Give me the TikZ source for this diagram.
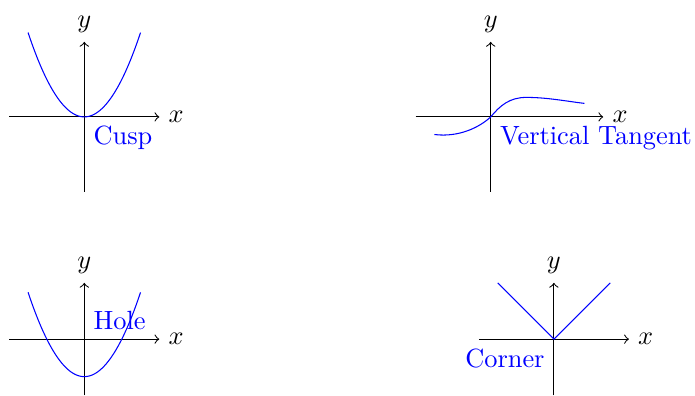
\documentclass[tikz,border=0pt]{standalone}
\tikzset{
  axisline/.style={->},
  curveline/.style={blue},
  lbl/.style={blue}
}
\begin{document}
\begin{tikzpicture}[x=0.5cm,y=0.5cm]
\useasboundingbox (0,0) rectangle (18.533,10.533);
% Cusp
\begin{scope}[shift={(2.248,7.416)}]
  \coordinate (o1) at (0,0);
  \draw[axisline] (-2,0) -- (2,0) node[right] (x1) {$x$};
  \draw[axisline] (0,-2) -- (0,2) node[above] (y1) {$y$};
  \draw[curveline] plot[domain=-1.5:1.5, samples=80] (\x,{\x*\x});
  \node[lbl, below right] (cusp) at (o1) {Cusp};
\end{scope}
% Vertical tangent
\begin{scope}[shift={(13.085,7.416)}]
  \coordinate (o2) at (0,0);
  \draw[axisline] (-2,0) -- (3,0) node[right] (x2) {$x$};
  \draw[axisline] (0,-2) -- (0,2) node[above] (y2) {$y$};
  \draw[curveline] (-1.5,-0.47) .. controls (-0.85,-0.55) and (-0.3,-0.28) .. (o2)
     .. controls (0.25,0.3) and (0.5,0.52) .. (0.95,0.52)
     .. controls (1.5,0.52) and (2,0.42) .. (2.5,0.36);
  \node[lbl, below right] (vt) at (o2) {Vertical Tangent};
\end{scope}
% Hole
\begin{scope}[shift={(2.248,1.49)}]
  \coordinate (o3) at (0,0);
  \draw[axisline] (-2,0) -- (2,0) node[right] (x3) {$x$};
  \draw[axisline] (0,-1.5) -- (0,1.5) node[above] (y3) {$y$};
  \draw[curveline] plot[domain=-1.5:1.5, samples=80] (\x,{\x*\x-1});
  \node[lbl, above right] (hole) at (o3) {Hole};
\end{scope}
% Corner
\begin{scope}[shift={(14.77,1.49)}]
  \coordinate (o4) at (0,0);
  \draw[axisline] (-2,0) -- (2,0) node[right] (x4) {$x$};
  \draw[axisline] (0,-1.5) -- (0,1.5) node[above] (y4) {$y$};
  \draw[curveline] (-1.5,1.5) -- (o4) -- (1.5,1.5);
  \node[lbl, below left] (corner) at (o4) {Corner};
\end{scope}
\end{tikzpicture}
\end{document}
